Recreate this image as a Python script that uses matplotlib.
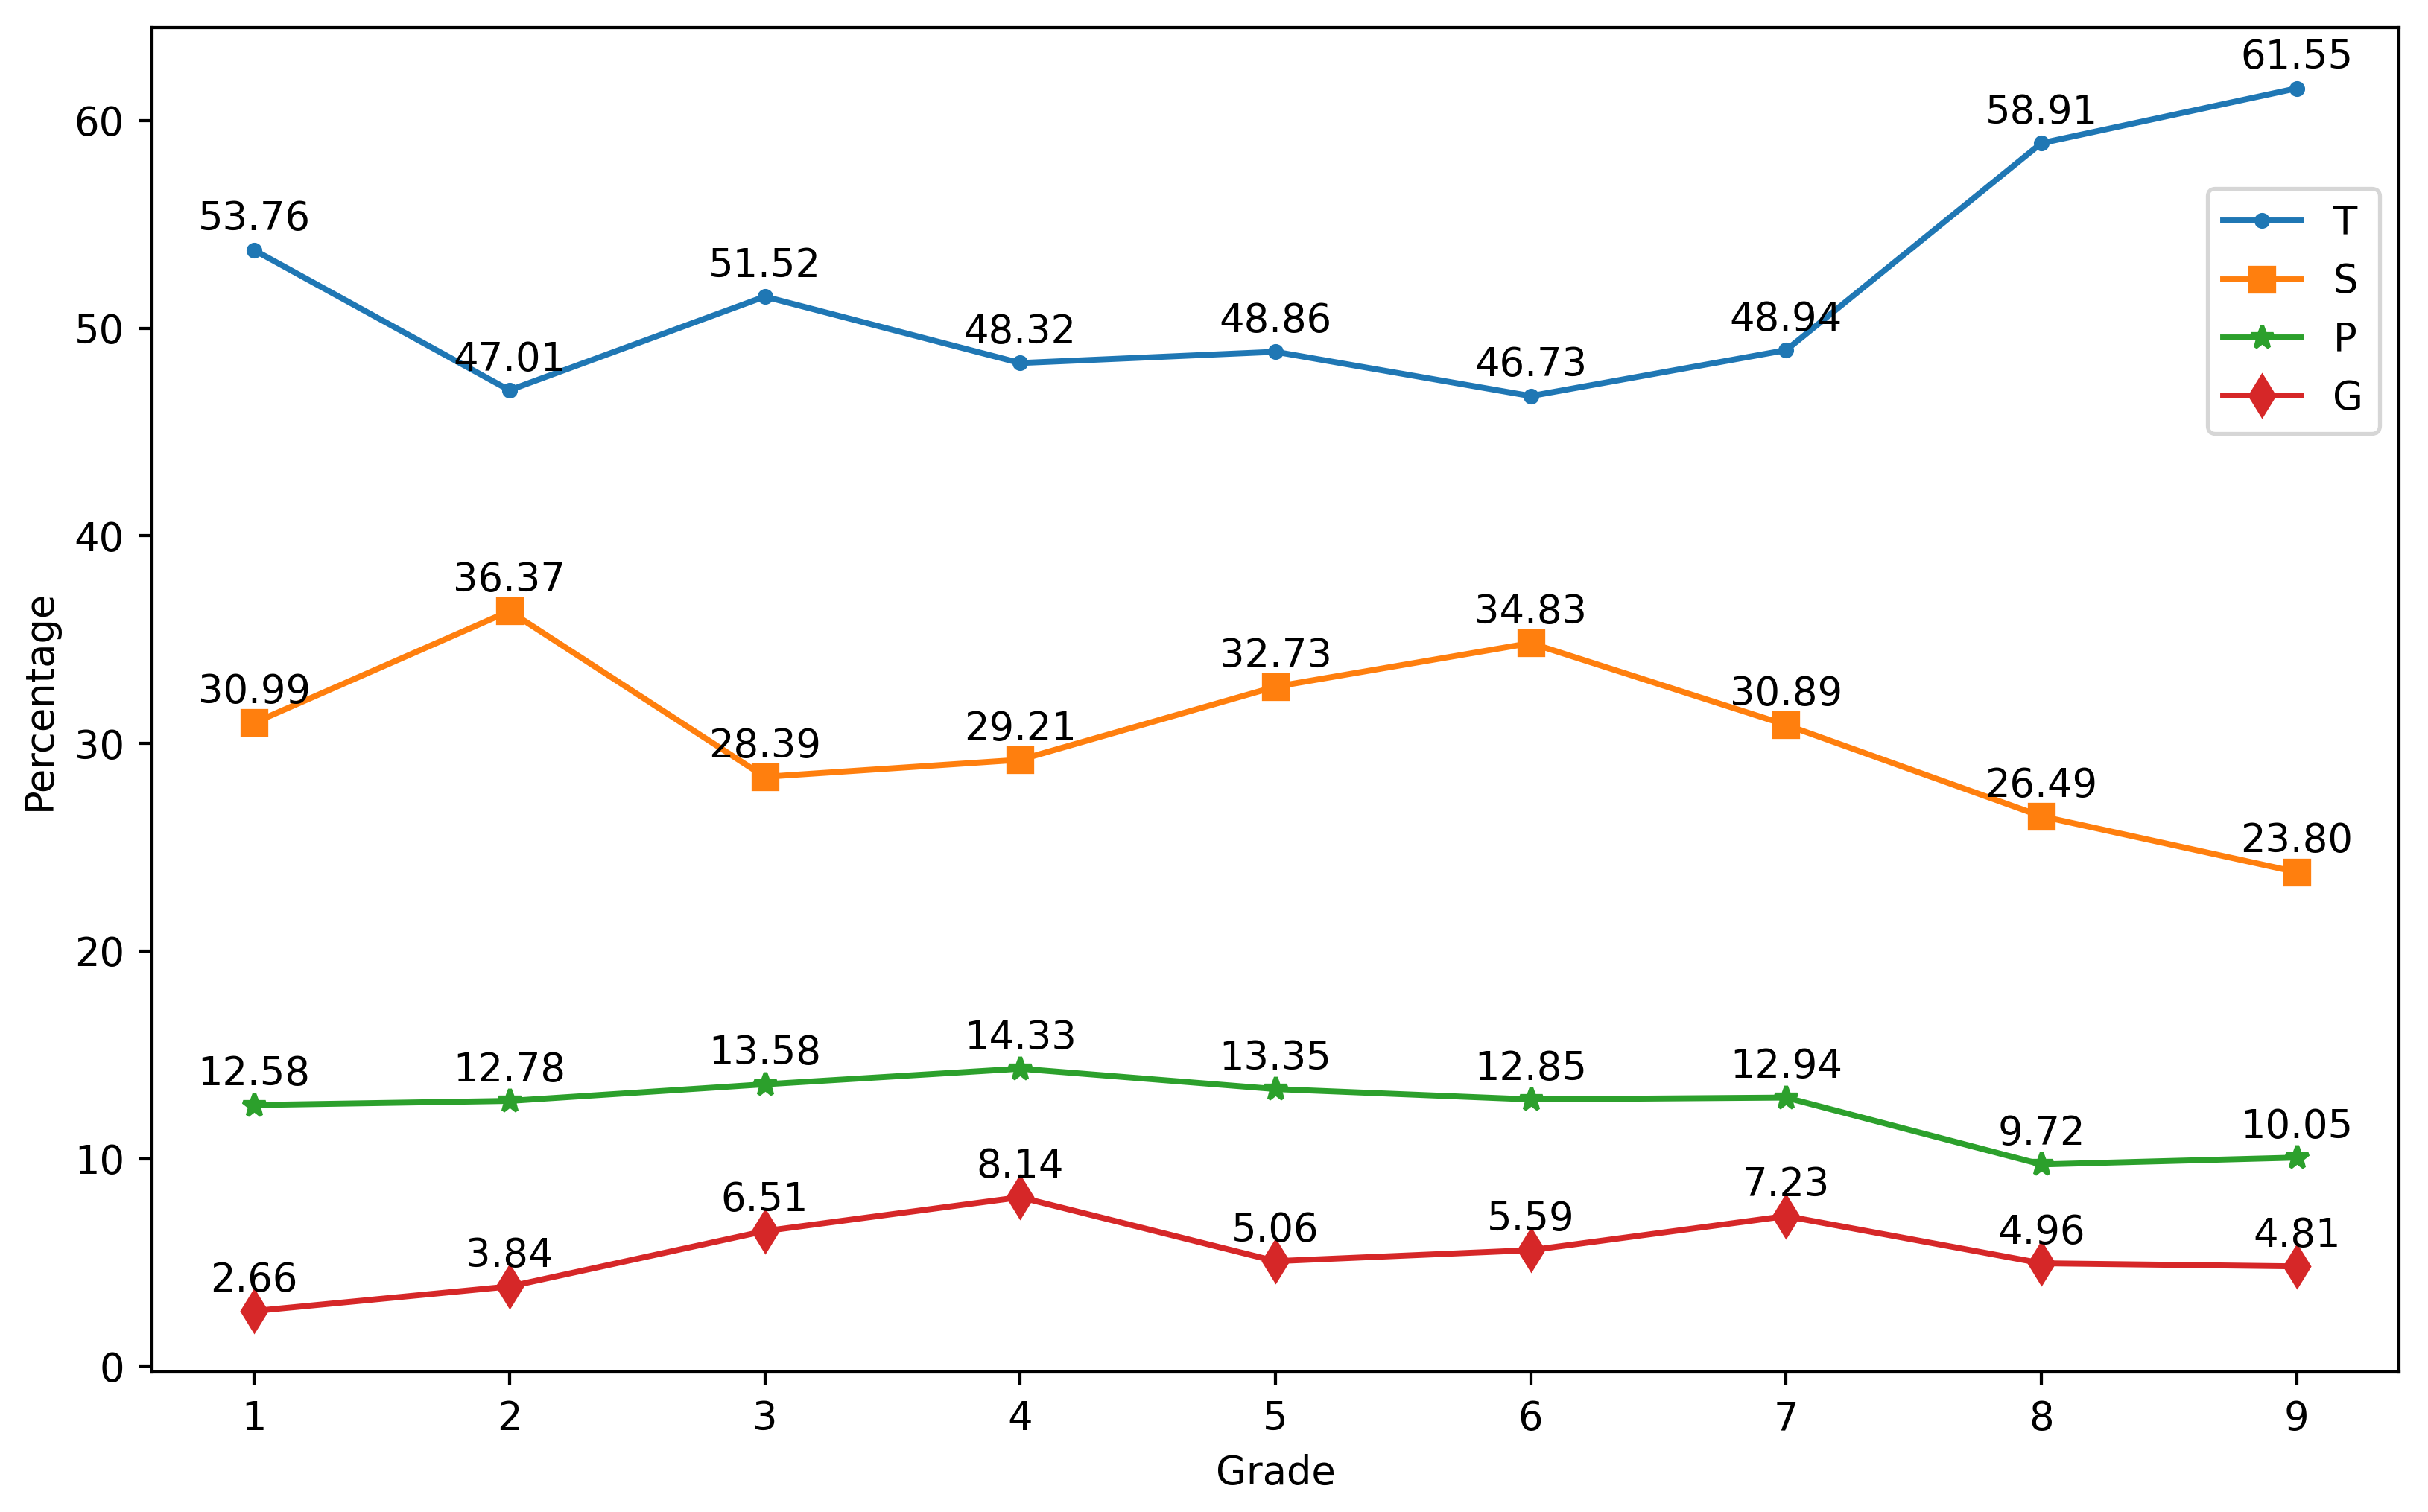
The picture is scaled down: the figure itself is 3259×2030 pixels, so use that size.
import matplotlib
matplotlib.use('Agg')
import matplotlib.pyplot as plt

# grade-level percentages for each category
grades = [1, 2, 3, 4, 5, 6, 7, 8, 9]
T = [53.76, 47.01, 51.52, 48.32, 48.86, 46.73, 48.94, 58.91, 61.55]
S = [30.99, 36.37, 28.39, 29.21, 32.73, 34.83, 30.89, 26.49, 23.80]
P = [12.58, 12.78, 13.58, 14.33, 13.35, 12.85, 12.94, 9.72, 10.05]
G = [2.66, 3.84, 6.51, 8.14, 5.06, 5.59, 7.23, 4.96, 4.81]

series = [('T', T, '.', 6), ('S', S, 's', 6), ('P', P, '*', 6), ('G', G, 'd', 7)]

DPI = 380
fig, ax = plt.subplots(figsize=(3259 / DPI, 2030 / DPI), dpi=DPI)
fig.subplots_adjust(left=0.0626, right=0.988, top=0.982, bottom=0.0925)

for name, vals, mk, ms in series:
    ax.plot(grades, vals, marker=mk, markersize=ms, label=name)
    for x, y in zip(grades, vals):
        ax.annotate(f'{y:.2f}', (x, y), textcoords='offset points',
                    xytext=(0, 5), ha='center')

ax.set_xlabel('Grade')
ax.set_ylabel('Percentage')
ax.set_xticks(grades)
ax.legend(loc='upper right', bbox_to_anchor=(1, 0.895))

plt.savefig('out.png', dpi=DPI)
